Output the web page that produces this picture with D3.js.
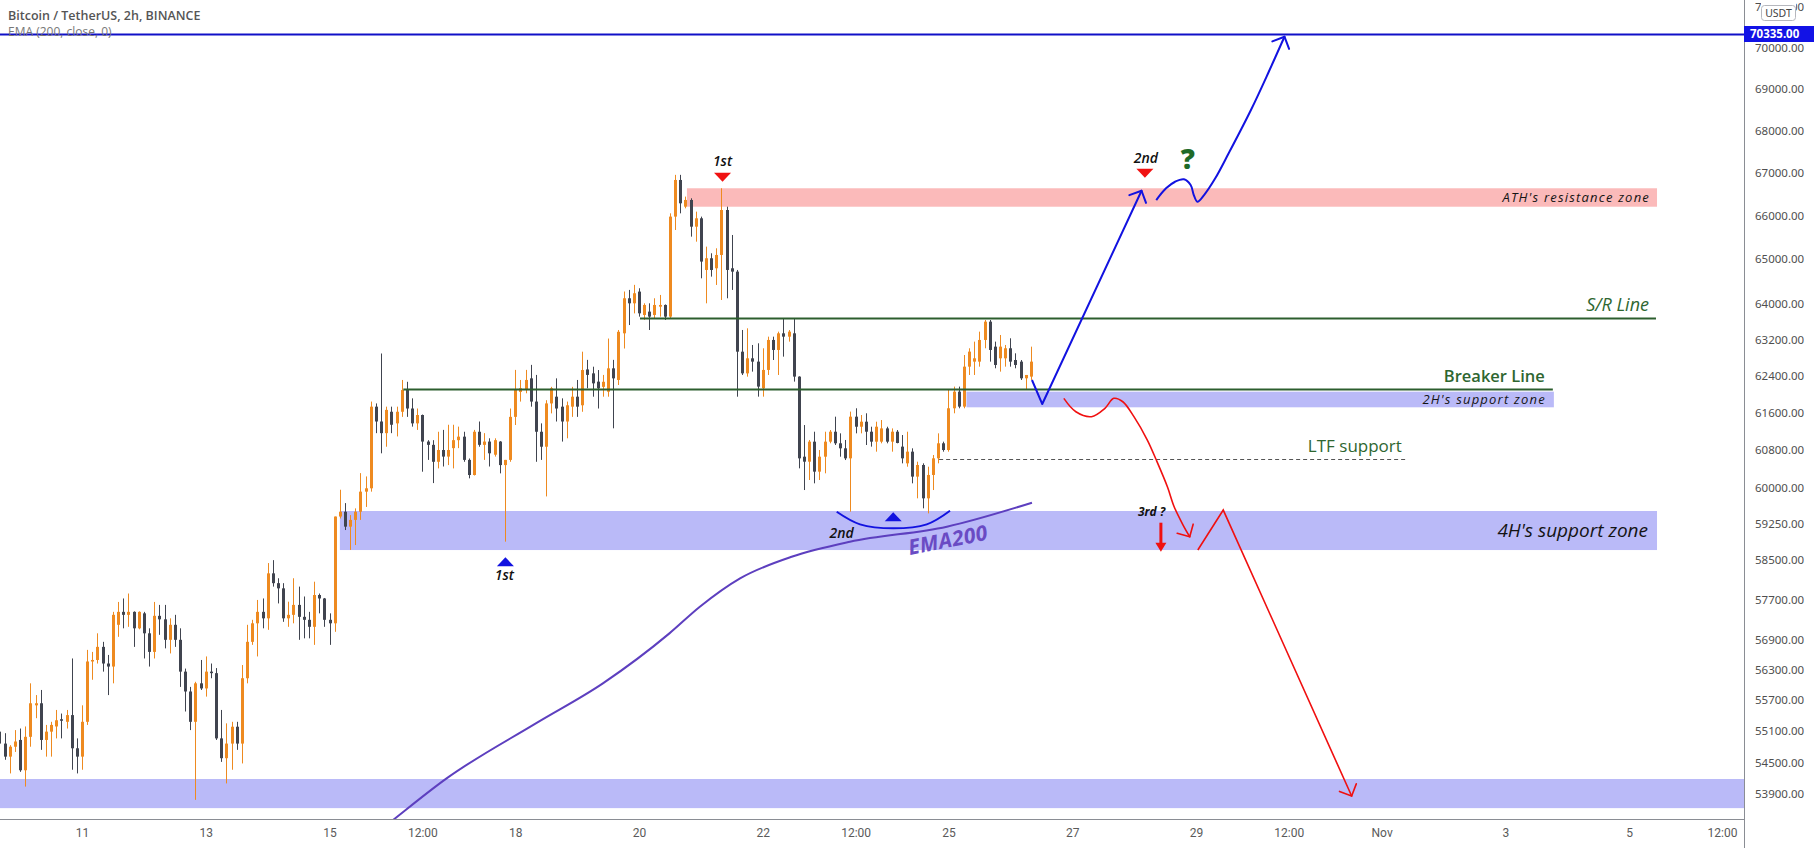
<!DOCTYPE html>
<html lang="en">
<head>
<meta charset="UTF-8">
<title>Bitcoin / TetherUS, 2h, BINANCE</title>
<style>
  html, body { margin: 0; padding: 0; background: #fff; }
  svg { display: block; }
</style>
</head>
<body>
<svg id="chart" width="1814" height="848"></svg>
<script src="https://d3js.org/d3.v7.min.js"></script>
<script>
// ---- data ----
// 2h candles, first one Oct 9 2021 16:00 UTC
const opens = [55090,54860,54610,54800,54930,54350,54990,55600,55640,54930,55090,55190,55330,55280,55410,54770,54610,55280,56460,56490,
  56750,56420,56360,57190,57450,57390,57450,57120,57420,57020,56650,57370,57300,56890,57190,56890,56260,55870,55280,56030,
  55930,56260,56230,54960,54580,54860,55185,54860,56130,56850,57220,57450,57320,58230,58030,57925,57320,57390,57590,57350,
  57290,57150,57790,57720,57290,57220,59400,59500,59190,59330,59500,59920,59990,61730,61410,61160,61620,61370,61620,62090,
  61690,61370,61550,60980,60910,60550,60800,60660,60840,61010,61085,60590,60270,61190,60910,60980,60700,60980,60480,60590,
  61510,62050,62090,62345,61840,61190,60870,61800,61946,61730,61410,61730,61946,61760,62540,62454,62273,62160,62054,62564,
  62310,63336,64118,64005,64268,63744,63819,63744,63930,63968,63707,65978,66830,66208,66364,65746,65939,64757,65023,64795,
  65098,66131,64795,64719,62930,62454,62784,62711,62128,62529,63189,62968,63336,63262,63336,62383,60658,60552,60978,60341,
  60658,60978,61191,60943,60836,60623,61514,61298,61406,61191,60978,60978,61262,60978,61191,60872,60517,60765,60236,60482,
  59780,60271,60623,60943,60800,61695,62055,61731,62601,62711,62711,63189,63595,63041,62784,62784,63005,62747,62711,62346,62383];
const highs = [55150,55060,54830,55120,55150,55190,56030,55800,55900,55220,55280,55510,55440,55510,56520,54960,55600,56690,56650,57020,
  56850,56590,57450,57650,57720,57820,57460,57460,57450,57120,57650,57590,57590,57320,57390,57120,56320,55960,56060,56490,
  56560,56420,56330,55510,55250,55280,55280,56390,57190,57290,57690,57720,58440,58500,58130,58030,57655,58130,57960,57760,
  57450,58060,57820,57730,57420,59400,59960,59680,59430,59570,60310,60240,61840,61800,62890,61730,61730,61730,62310,62270,
  61910,61690,61560,61010,61010,61190,61230,61340,61340,61300,61190,60620,61230,61410,61160,61050,61050,60990,60590,61690,
  62530,62310,62530,62640,62420,61370,61870,62160,62345,61910,61840,62160,62310,62930,62750,62600,62527,62420,63220,62750,
  63410,64270,64306,64420,64343,64005,64005,64118,64193,63980,66054,66950,66950,66442,66403,66093,65978,65288,65136,65250,
  66636,66208,65555,64757,63410,63447,63078,63115,63005,63262,63262,63373,63670,63409,63670,62390,61334,61014,61191,60800,
  61191,61227,61514,61156,61014,61623,61695,61550,61587,61298,61406,61442,61298,61262,61227,61120,61191,60836,60552,60517,
  60446,60694,61156,60978,62092,62165,62165,62857,63005,63152,63373,63632,63632,63152,63299,63078,63226,62894,62747,62419,63041];
const lows = [54640,54550,54290,54700,54320,54040,54800,55350,54740,54610,54610,54960,54960,55150,54360,54290,54360,55220,56100,56420,
  56260,55800,56030,56950,57120,57150,56750,57100,56520,56360,56520,56990,56720,56620,56750,55960,55480,55120,53790,55900,
  55770,56130,54930,54510,54100,54360,54740,54480,56030,56790,56560,57120,57090,57960,57620,57250,57150,57220,56890,56920,
  56920,56790,57420,57150,56790,57050,59360,59120,58710,58810,59330,59600,59920,61160,60730,60870,61160,61090,61510,61510,
  61300,61230,60340,60590,60100,60410,60450,60480,60410,60840,60550,60200,60260,60870,60590,60450,60660,60305,58880,60550,
  61335,61840,62020,61730,60550,60590,59820,61585,61410,60980,61050,61510,61510,61620,62130,61946,61690,61946,61946,61264,
  62200,63000,63520,63780,63707,63633,63410,63670,63707,63633,63670,65670,66054,66170,65517,65402,64568,64005,64606,64418,
  64080,64118,64306,61946,62418,62382,62492,61947,61947,62419,62747,62419,62821,63152,62274,60411,59954,60165,60095,60165,
  60306,60943,60907,60658,60587,59501,61156,61156,60907,60872,60765,60943,60943,60765,60943,60517,60446,60095,59780,59571,
  59466,59954,60517,60765,60765,61587,61695,61695,62419,62419,62601,63005,62711,62565,62492,62601,62601,62565,62310,62092,62310];
const closes = [54860,54610,54800,54900,54350,54990,55640,55640,54930,55090,55220,55310,55300,55410,54770,54610,55280,56460,56490,56750,
  56420,56360,57390,57450,57390,57450,57120,57450,57020,56650,57370,57300,56890,57190,56890,56260,55870,55280,56030,55930,
  56260,56230,54960,54580,54860,55185,54860,56130,56850,57220,57450,57320,58230,58030,57925,57320,57390,57590,57350,57290,
  57150,57790,57720,57290,57220,59400,59500,59190,59330,59500,59920,59990,61730,61410,61160,61660,61340,61620,62090,61690,
  61370,61550,60980,60910,60550,60800,60660,60800,61010,61085,60590,60270,61190,60910,60980,60730,61010,60480,60590,61510,
  62090,62130,62310,61840,61190,60870,61800,62130,61690,61410,61760,61946,61730,62527,62420,62236,62127,62270,62564,62345,
  63370,64118,64005,64231,63781,63968,63707,63968,63968,63707,65978,66830,66286,66364,65746,65939,64947,65023,64757,65098,
  66131,64757,64719,62930,62454,62784,62711,62165,62529,63189,62968,63336,63262,63373,62383,60623,60552,60978,60341,60658,
  60978,61191,60943,60836,60623,61514,61298,61406,61191,60978,61298,61262,60978,61191,60950,60623,60765,60236,60482,59780,
  60271,60623,60943,60800,61695,62055,61731,62601,62931,62784,63189,63595,62968,62638,63041,63005,62711,62638,62346,62419,62711];

// EMA (200, close) read at a few bar positions
const emaBars = [72, 76.3, 86.7, 104, 117, 129.9, 135.8, 143.6, 153.6, 164.9, 183.7, 200.2];
const emaValues = [53080, 53410, 54196, 55250, 56030, 57019, 57553, 58128, 58569, 58878, 59189, 59688];

// price scale marks (log scale) and time marks
const priceTicks = [71000, 70000, 69000, 68000, 67000, 66000, 65000, 64000, 63200, 62400, 61600, 60800,
  60000, 59250, 58500, 57700, 56900, 56300, 55700, 55100, 54500, 53900];
const timeTickDates = [[2021,9,11,0],[2021,9,13,0],[2021,9,15,0],[2021,9,16,12],[2021,9,18,0],[2021,9,20,0],[2021,9,22,0],
  [2021,9,23,12],[2021,9,25,0],[2021,9,27,0],[2021,9,29,0],[2021,9,30,12],[2021,10,1,0],[2021,10,3,0],[2021,10,5,0],[2021,10,6,12]];
const timeTickLabels = ["11","13","15","12:00","18","20","22","12:00","25","27","29","12:00","Nov","3","5","12:00"];

// drawn zones: bar start, bar end, low, high
const zoneStart = [133.3, 66.0, 187.5, -2];
const zoneEnd = [321.4, 321.4, 301.4, 345];
const zoneLow = [66207, 58707, 61716, 53634];
const zoneHigh = [66636, 59515, 62055, 54184];
const zoneLabels = ["ATH's resistance zone", "4H's support zone", "2H's support zone", ""];

// horizontal levels: target, S/R, breaker, LTF support
const levelStart = [-2, 124.2, 78.3, 182.2];
const levelEnd = [345, 321.2, 301.2, 272.7];
const levelValue = [70335, 63684, 62107, 60608];
const levelLabels = ["", "S/R Line", "Breaker Line", "LTF support"];

// scenario paths [bar, price]
const blueUpA = [[200.2, 62309], [202.2, 61787], [221.45, 66579]];
const blueUpB = [[224.3, 66362], [226.2, 66635], [227.95, 66789], [229.67, 66846], [230.97, 66712], [231.58, 66479],
  [232.27, 66323], [233.57, 66479], [235.74, 66869], [238.34, 67457], [242.66, 68488], [246.12, 69412], [249.16, 70268]];
const redDownA = [[206.38, 61910], [208.72, 61620], [211.75, 61514], [214.35, 61694], [216.07, 61910], [217.82, 61836],
  [219.97, 61514], [222.57, 61013], [224.31, 60587], [226.46, 60023], [227.77, 59605], [229.5, 59224], [230.79, 58982]];
const redDownB = [[232.36, 58707], [237.29, 59535], [262.19, 53862]];
const blueArc = [[162.34, 59500], [166.86, 59238], [173.32, 59155], [179.8, 59238], [184.31, 59521]];
const thickArrow = [225.2, 59272, 58672];

// markers [bar, price]
const redTriangles = [[140.2, 66892], [222.1, 66986]];
const blueTriangles = [[98.1, 58468], [173.3, 59396]];
const noteTexts = [[140.2, 67283, "1st"], [222.3, 67339, "2nd"], [97.9, 58195, "1st"], [163.3, 59064, "2nd"], [223.4, 59500, "3rd ?"]];
const questionMark = [230.4, 67316, "?"];
const emaLabel = [183.9, 58913, "EMA200"];

// ---- scales ----
const plotRight = 1744, plotBottom = 819;
const t0 = Date.UTC(2021, 9, 9, 16);
const barMs = 2 * 3600 * 1000;
const barTime = i => new Date(t0 + i * barMs);

const x = d3.scaleUtc()
  .domain([new Date(Date.UTC(2021, 9, 11)), new Date(Date.UTC(2021, 10, 6, 12))])
  .range([82, 1722]);
const y = d3.scaleLog().domain([53900, 70335]).range([794, 34]);
const xb = i => x(barTime(i));

const svg = d3.select("#chart");
svg.append("rect").attr("width", 1814).attr("height", 848).attr("fill", "#fff");

const defs = svg.append("defs");
defs.append("clipPath").attr("id", "plot")
  .append("rect").attr("width", plotRight).attr("height", plotBottom);
// the badge sits over the top price mark, only its ends show
const badgeClip = defs.append("clipPath").attr("id", "badgeGap");
badgeClip.append("rect").attr("x", 0).attr("y", -20).attr("width", 17).attr("height", 40);
badgeClip.append("rect").attr("x", 52).attr("y", -20).attr("width", 30).attr("height", 40);

const plot = svg.append("g").attr("clip-path", "url(#plot)");

// zones behind the candles
const zoneFill = ["#fbbaba", "#babaf8", "#babaf8", "#babaf8"];
plot.append("g").selectAll("rect")
  .data(d3.range(zoneStart.length))
  .join("rect")
  .attr("x", i => xb(zoneStart[i]))
  .attr("width", i => xb(zoneEnd[i]) - xb(zoneStart[i]))
  .attr("y", i => y(zoneHigh[i]))
  .attr("height", i => y(zoneLow[i]) - y(zoneHigh[i]))
  .attr("fill", i => zoneFill[i]);

// candles
const upColor = "#ee8a20", downColor = "#40444f";
const candles = d3.range(opens.length).map(i => ({ i, o: opens[i], h: highs[i], l: lows[i], c: closes[i] }));
const cg = plot.append("g").selectAll("g").data(candles).join("g")
  .attr("fill", d => d.c >= d.o ? upColor : downColor);
cg.append("rect")
  .attr("x", d => Math.round(xb(d.i)))
  .attr("width", 1)
  .attr("y", d => y(d.h))
  .attr("height", d => y(d.l) - y(d.h));
cg.append("rect")
  .attr("x", d => Math.round(xb(d.i)) - 1)
  .attr("width", 3)
  .attr("y", d => y(Math.max(d.o, d.c)))
  .attr("height", d => Math.max(1, Math.abs(y(d.o) - y(d.c))));

// EMA
const emaLine = d3.line().x(d => xb(d[0])).y(d => y(d[1])).curve(d3.curveMonotoneX);
plot.append("path")
  .attr("d", emaLine(emaBars.map((b, i) => [b, emaValues[i]])))
  .attr("fill", "none").attr("stroke", "#5d3fbf").attr("stroke-width", 2);

// levels
const levelColor = ["#1010c8", "#2c5e2e", "#2c5e2e", "#555"];
plot.append("g").selectAll("line")
  .data(d3.range(levelValue.length))
  .join("line")
  .attr("x1", i => xb(levelStart[i]))
  .attr("x2", i => xb(levelEnd[i]))
  .attr("y1", i => Math.round(y(levelValue[i])) + 0.5)
  .attr("y2", i => Math.round(y(levelValue[i])) + 0.5)
  .attr("stroke", i => levelColor[i])
  .attr("stroke-width", i => i === 3 ? 1 : 2)
  .attr("stroke-dasharray", i => i === 3 ? "4,3" : null);

// zone and level labels
const zoneLabelSize = [13, 19, 13];
const zoneLabelPad = [7, 9, 8];
const zoneLabelSpacing = [1.2, 0, 1.2];
plot.append("g").selectAll("text")
  .data([0, 1, 2])
  .join("text")
  .attr("x", i => xb(zoneEnd[i]) - zoneLabelPad[i])
  .attr("y", i => (y(zoneLow[i]) + y(zoneHigh[i])) / 2)
  .attr("dy", "0.35em")
  .attr("text-anchor", "end")
  .attr("font-family", "'Open Sans', sans-serif")
  .attr("font-style", "italic")
  .attr("font-size", i => zoneLabelSize[i])
  .attr("letter-spacing", i => zoneLabelSpacing[i])
  .attr("fill", "#141414")
  .text(i => zoneLabels[i]);

const levelLabelEnd = [0, 321.2, 301.2, 272.7];
const levelLabelPad = [0, 7, 8, 4];
const levelLabelSize = [0, 18, 16.5, 17];
plot.append("g").selectAll("text")
  .data([1, 2, 3])
  .join("text")
  .attr("x", i => xb(levelLabelEnd[i]) - levelLabelPad[i])
  .attr("y", i => y(levelValue[i]) - 7)
  .attr("text-anchor", "end")
  .attr("font-family", "'Open Sans', sans-serif")
  .attr("font-style", i => i === 1 ? "italic" : "normal")
  .attr("font-weight", i => i === 2 ? 600 : 500)
  .attr("font-size", i => levelLabelSize[i])
  .attr("fill", "#2e6630")
  .text(i => levelLabels[i]);

// scenario paths
const pathLine = d3.line().x(d => xb(d[0])).y(d => y(d[1])).curve(d3.curveCatmullRom.alpha(0.5));
const straight = d3.line().x(d => xb(d[0])).y(d => y(d[1]));

function arrowHead(pts, color, width) {
  const n = pts.length;
  const tip = [xb(pts[n - 1][0]), y(pts[n - 1][1])];
  const prev = [xb(pts[n - 2][0]), y(pts[n - 2][1])];
  const ang = Math.atan2(tip[1] - prev[1], tip[0] - prev[0]) + Math.PI;
  const len = 13, spread = Math.PI / 4;
  [-1, 1].forEach(s => {
    const a = ang + s * spread;
    plot.append("line")
      .attr("x1", tip[0]).attr("y1", tip[1])
      .attr("x2", tip[0] + len * Math.cos(a)).attr("y2", tip[1] + len * Math.sin(a))
      .attr("stroke", color).attr("stroke-width", width).attr("stroke-linecap", "round");
  });
}

const blue = "#1212e0", red = "#f01010";
plot.append("path").attr("d", straight(blueUpA)).attr("fill", "none")
  .attr("stroke", blue).attr("stroke-width", 2).attr("stroke-linejoin", "round");
arrowHead(blueUpA, blue, 2);
plot.append("path").attr("d", pathLine(blueUpB)).attr("fill", "none")
  .attr("stroke", blue).attr("stroke-width", 2);
arrowHead(blueUpB, blue, 2);
plot.append("path").attr("d", pathLine(redDownA)).attr("fill", "none")
  .attr("stroke", red).attr("stroke-width", 1.6);
arrowHead(redDownA, red, 1.6);
plot.append("path").attr("d", straight(redDownB)).attr("fill", "none")
  .attr("stroke", red).attr("stroke-width", 1.6);
arrowHead(redDownB, red, 1.6);
plot.append("path").attr("d", pathLine(blueArc)).attr("fill", "none")
  .attr("stroke", blue).attr("stroke-width", 2);

// thick red down arrow
{
  const ax = xb(thickArrow[0]), top = y(thickArrow[1]), bot = y(thickArrow[2]);
  plot.append("line").attr("x1", ax).attr("x2", ax).attr("y1", top).attr("y2", bot - 8)
    .attr("stroke", red).attr("stroke-width", 3);
  plot.append("path")
    .attr("d", `M${ax - 5.5},${bot - 9}L${ax + 5.5},${bot - 9}L${ax},${bot}Z`)
    .attr("fill", red);
}

// triangles
plot.append("g").selectAll("path").data(redTriangles).join("path")
  .attr("d", d => { const cx = xb(d[0]), cy = y(d[1]); return `M${cx - 8.5},${cy - 4.5}L${cx + 8.5},${cy - 4.5}L${cx},${cy + 4.5}Z`; })
  .attr("fill", "#f01212");
plot.append("g").selectAll("path").data(blueTriangles).join("path")
  .attr("d", d => { const cx = xb(d[0]), cy = y(d[1]); return `M${cx - 8.5},${cy + 4.5}L${cx + 8.5},${cy + 4.5}L${cx},${cy - 4.5}Z`; })
  .attr("fill", "#1212e0");

// small notes
plot.append("g").selectAll("text").data(noteTexts).join("text")
  .attr("x", d => xb(d[0]))
  .attr("y", d => y(d[1]))
  .attr("dy", "0.35em")
  .attr("text-anchor", "middle")
  .attr("font-family", "'Open Sans', sans-serif")
  .attr("font-style", "italic")
  .attr("font-weight", d => d[2] === "3rd ?" ? 700 : 600)
  .attr("font-size", d => d[2] === "3rd ?" ? 12 : 14)
  .attr("fill", "#111")
  .text(d => d[2]);

plot.append("text")
  .attr("x", xb(questionMark[0])).attr("y", y(questionMark[1]))
  .attr("dy", "0.35em").attr("text-anchor", "middle")
  .attr("font-family", "'Open Sans', sans-serif").attr("font-weight", 800)
  .attr("font-size", 28).attr("fill", "#1f6a28")
  .text(questionMark[2]);

plot.append("text")
  .attr("transform", `translate(${xb(emaLabel[0])},${y(emaLabel[1])}) rotate(-11)`)
  .attr("dy", "0.35em").attr("text-anchor", "middle")
  .attr("font-family", "'Open Sans', sans-serif").attr("font-weight", 700).attr("font-style", "italic")
  .attr("font-size", 21).attr("letter-spacing", 0.5).attr("fill", "#6a4bc4")
  .text(emaLabel[2]);

// ---- axes ----
svg.append("line").attr("x1", plotRight + 0.5).attr("x2", plotRight + 0.5).attr("y1", 0).attr("y2", 848)
  .attr("stroke", "#8a8d94").attr("stroke-width", 1);
svg.append("line").attr("x1", 0).attr("x2", plotRight).attr("y1", plotBottom + 0.5).attr("y2", plotBottom + 0.5)
  .attr("stroke", "#8a8d94").attr("stroke-width", 1);

const yAxis = svg.append("g").attr("transform", `translate(${plotRight},0)`)
  .call(d3.axisRight(y).tickValues(priceTicks).tickFormat(d3.format(".2f")).tickSize(0).tickPadding(11));
yAxis.select(".domain").remove();
yAxis.selectAll("text").attr("font-family", "'Noto Sans', sans-serif").attr("font-size", 11.5).attr("fill", "#4f4f4f");
yAxis.selectAll(".tick").filter(d => d === priceTicks[0]).select("text").attr("clip-path", "url(#badgeGap)");

const xAxis = svg.append("g").attr("transform", `translate(0,${plotBottom})`)
  .call(d3.axisBottom(x)
    .tickValues(timeTickDates.map(d => new Date(Date.UTC(d[0], d[1], d[2], d[3]))))
    .tickFormat((d, i) => timeTickLabels[i]).tickSize(0).tickPadding(9));
xAxis.select(".domain").remove();
xAxis.selectAll("text").attr("font-family", "Roboto, sans-serif").attr("font-size", 12).attr("fill", "#5a5a5a");

// USDT badge over the top mark
svg.append("rect").attr("x", 1761.5).attr("y", 5.5).attr("width", 34).attr("height", 15).attr("rx", 3)
  .attr("fill", "#fff").attr("stroke", "#b5b7bd");
svg.append("text").attr("x", 1778.5).attr("y", 13).attr("dy", "0.35em").attr("text-anchor", "middle")
  .attr("font-family", "'Noto Sans', sans-serif").attr("font-size", 10.5).attr("fill", "#444").text("USDT");

// current target price label
{
  const ty = y(levelValue[0]);
  svg.append("rect").attr("x", plotRight).attr("y", ty - 8).attr("width", 70).attr("height", 16).attr("fill", "#1212e6");
  svg.append("text").attr("x", plotRight + 6).attr("y", ty).attr("dy", "0.35em")
    .attr("font-family", "'Noto Sans', sans-serif").attr("font-weight", 700).attr("font-size", 11.5)
    .attr("fill", "#fff").text(d3.format(".2f")(levelValue[0]));
}

// header
svg.append("text").attr("x", 8).attr("y", 16).attr("dy", "0.35em")
  .attr("font-family", "'Open Sans', sans-serif").attr("font-weight", 600).attr("font-size", 12.5)
  .attr("fill", "#555").text("Bitcoin / TetherUS, 2h, BINANCE");
svg.append("text").attr("x", 8).attr("y", 32).attr("dy", "0.35em")
  .attr("font-family", "'Open Sans', sans-serif").attr("font-size", 12)
  .attr("fill", "#777").text("EMA (200, close, 0)");
</script>
</body>
</html>
